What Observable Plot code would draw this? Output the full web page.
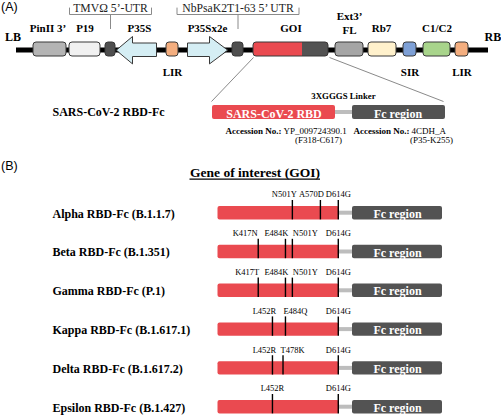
<!DOCTYPE html>
<html>
<head>
<meta charset="utf-8">
<script src="https://cdn.jsdelivr.net/npm/d3@7"></script>
<script src="https://cdn.jsdelivr.net/npm/@observablehq/plot@0.6"></script>
<style>
  html, body { margin: 0; padding: 0; background: #fff; }
  #chart svg { display: block; }
</style>
</head>
<body>
<div id="chart"></div>
<script>
// ================= DATA =================
const panelLabels = ["(A)", "(B)"];
// expression-vector elements, left border (LB) to right border (RB)
const vectorParts = ["PinII 3’", "P19", "TMVΩ 5’-UTR", "P35S", "LIR", "P35Sx2e",
  "NbPsaK2T1-63 5’ UTR", "GOI", "Ext3’ FL", "Rb7", "SIR", "C1/C2", "LIR"];
const borders = ["LB", "RB"];
const constructName = "SARS-CoV-2 RBD-Fc";
const domainNames = ["SARS-CoV-2 RBD", "Fc region"];
const linkerName = "3XGGGS Linker";
const accessions = ["YP_009724390.1", "4CDH_A"];
const residueRanges = ["(F318-C617)", "(P35-K255)"];
const rbdResidues = [318, 617];
const goiTitle = "Gene of interest (GOI)";
const variants = ["Alpha", "Beta", "Gamma", "Kappa", "Delta", "Epsilon"];
const lineages = ["B.1.1.7", "B.1.351", "P.1", "B.1.617.1", "B.1.617.2", "B.1.427"];
const mutations = [
  ["N501Y", "A570D", "D614G"],
  ["K417N", "E484K", "N501Y", "D614G"],
  ["K417T", "E484K", "N501Y", "D614G"],
  ["L452R", "E484Q", "D614G"],
  ["L452R", "T478K", "D614G"],
  ["L452R", "D614G"]
];

// ================= LAYOUT / STYLE =================
const W = 501, H = 415;
const SERIF = "'Liberation Serif', 'Times New Roman', serif";
const SANS = "'Liberation Sans', Arial, sans-serif";
const RED = "#ea4a50", DARK = "#535353", LINKER = "#bdbdbd", GUIDE = "#8a8a8a", EDGE = "#383838";

const trackY = 49.5, trackX = [16, 488], boxTop = 42, boxBot = 56;
const partX1 = [33, 69, 105, 116, 166, 187, 232, 253, 335, 368, 403, 423, 455];
const partX2 = [66, 100, 115, 156, 178, 227, 243, 328, 363, 396, 416, 450, 468];
const partShape = ["box", "box", "utr", "arrowL", "box", "arrowR", "utr", "goi", "box", "box", "box", "box", "box"];
const partFill = ["#b4b4b4", "#f1f1f1", "#4f4f4f", "#d5eef4", "#f4ae7f", "#d5eef4", "#4f4f4f", RED,
  "#a5a5a5", "#fff1cc", "#7ea0d6", "#a8d48b", "#f4ae7f"];
const partLabel = ["above", "above", "bracket", "above", "below", "above", "bracket", "above", "above2", "above", "below", "above", "below"];
const labelDx = [ -2, 0, 0, 3, 0, 0, 0, 0, 0, -1, 0, 0, 0];
const bracketHalf = [0, 0, 41, 0, 0, 0, 61, 0, 0, 0, 0, 0, 0];
const goiSplit = 302;
const headH = 13.5, headLen = 16;

const parts = vectorParts.map((name, i) => ({
  name, x1: partX1[i], x2: partX2[i], cx: (partX1[i] + partX2[i]) / 2,
  shape: partShape[i], fill: partFill[i], pos: partLabel[i], dx: labelDx[i], half: bracketHalf[i]
}));

// detail bar in panel A
const detailY = [105, 119];
const detailRBD = [212, 335], detailFc = [352, 445];

// panel B rows
const rowY0 = 212.7, rowStep = 38.8, barHalf = 6.7;
const resX = d3.scaleLinear().domain(rbdResidues).range([217.5, 339]);
const fcB = [352, 442];
const mutDx = [[-8, -9, 0], [-13, -9, 13, 0], [-11, -9, 13, 0], [-8, 10, 0], [-8, 9.5, 0], [0, 0]];

const rows = variants.map((v, i) => ({ name: `${v} RBD-Fc (${lineages[i]})`, y: rowY0 + i * rowStep }));
const muts = mutations.flatMap((list, i) => list.map((m, j) => ({
  label: m, residue: +m.slice(1, -1), x: resX(+m.slice(1, -1)), y: rows[i].y, dx: mutDx[i][j]
})));

// ================= MARKS =================
const marks = [];
const T = (data, o) => Plot.text(data, { lineAnchor: "bottom", fontFamily: SERIF, fill: "#000", ...o });

// panel letters
marks.push(T([{ t: panelLabels[0], y: 10 }, { t: panelLabels[1], y: 169.5 }],
  { x: 0.5, y: "y", text: "t", textAnchor: "start", fontFamily: SANS, fontSize: 12.5 }));

// backbone
marks.push(Plot.ruleY([{ y: trackY }], { y: "y", x1: trackX[0], x2: trackX[1], stroke: "#000", strokeWidth: 5 }));

// boxes
const boxes = parts.filter(p => p.shape === "box" || p.shape === "utr");
marks.push(Plot.rect(boxes, { x1: "x1", x2: "x2", y1: boxTop, y2: boxBot, fill: "fill", stroke: EDGE, strokeWidth: 1, rx: 3 }));

// arrows (promoters)
const arrowPts = parts.filter(p => p.shape.startsWith("arrow")).flatMap(p => {
  const bt = boxTop + 0.5, bb = boxBot, top = trackY - headH, bot = trackY + headH;
  if (p.shape === "arrowL") {
    const hb = p.x1 + headLen;
    return [[p.x1, trackY], [hb, top], [hb, bt], [p.x2, bt], [p.x2, bb], [hb, bb], [hb, bot]].map(([x, y]) => ({ id: p.name, x, y }));
  } else {
    const hb = p.x2 - headLen - 2;
    return [[p.x2, trackY], [hb, top], [hb, bt], [p.x1, bt], [p.x1, bb], [hb, bb], [hb, bot]].map(([x, y]) => ({ id: p.name, x, y }));
  }
});
marks.push(Plot.line(arrowPts, { x: "x", y: "y", z: "id", fill: "#d5eef4", stroke: EDGE, strokeWidth: 1, curve: "linear-closed" }));

// GOI (RBD red + Fc dark)
const goi = parts.filter(p => p.shape === "goi");
marks.push(Plot.rect(goi, { x1: "x1", x2: "x2", y1: boxTop, y2: boxBot, fill: RED, rx: 3 }));
marks.push(Plot.rect(goi, { x1: goiSplit, x2: "x2", y1: boxTop, y2: boxBot, fill: DARK, rx: 3 }));
marks.push(Plot.rect(goi, { x1: goiSplit, x2: goiSplit + 5, y1: boxTop, y2: boxBot, fill: DARK }));
marks.push(Plot.rect(goi, { x1: "x1", x2: "x2", y1: boxTop, y2: boxBot, fill: "none", stroke: EDGE, strokeWidth: 1, rx: 3 }));

// brackets for UTRs
const utrs = parts.filter(p => p.pos === "bracket");
const bracketPts = utrs.flatMap(p => [[p.cx - p.half, 7.5], [p.cx - p.half, 14], [p.cx + p.half, 14], [p.cx + p.half, 7.5]]
  .map(([x, y]) => ({ id: p.name, x, y })));
marks.push(Plot.line(bracketPts, { x: "x", y: "y", z: "id", stroke: GUIDE, strokeWidth: 1 }));
marks.push(Plot.ruleX(utrs, { x: "cx", y1: 14, y2: 29, stroke: GUIDE, strokeWidth: 1 }));
marks.push(T(utrs, { x: "cx", y: 11.5, text: "name", fontSize: 11.7, fill: "#222" }));

// element labels
marks.push(T(parts.filter(p => p.pos === "above"), { x: d => d.cx + d.dx, y: 31.5, text: "name", fontSize: 11, fontWeight: "bold" }));
marks.push(T(parts.filter(p => p.pos === "above2"), { x: "cx", y: 33, text: d => d.name.replace(" ", "\n"), lineHeight: 1.25, fontSize: 11, fontWeight: "bold" }));
marks.push(T(parts.filter(p => p.pos === "below"), { x: "cx", y: 75, text: "name", fontSize: 11, fontWeight: "bold" }));
marks.push(T([{ t: borders[0], x: 4.5, a: "start", y: 40.5 }, { t: borders[1], x: 484, a: "start", y: 40.5 }],
  { x: "x", y: "y", text: "t", textAnchor: "start", fontSize: 12, fontWeight: "bold" }));

// zoom guide lines from GOI to detail bar
marks.push(Plot.link([{ x1: goi[0].x1, y1: boxBot + 1, x2: detailRBD[0] - 1, y2: detailY[0] - 4 },
  { x1: goi[0].x2 + 1, y1: boxBot + 1, x2: detailFc[1] - 2, y2: detailY[0] - 4 }],
  { x1: "x1", y1: "y1", x2: "x2", y2: "y2", stroke: GUIDE, strokeWidth: 1 }));

// detail bar
marks.push(Plot.rect([{}], { x1: detailRBD[1] - 2, x2: detailFc[0] + 2, y1: (detailY[0] + detailY[1]) / 2 - 2, y2: (detailY[0] + detailY[1]) / 2 + 2, fill: LINKER }));
marks.push(Plot.rect([{ a: detailRBD[0], b: detailRBD[1], f: RED }, { a: detailFc[0], b: detailFc[1], f: DARK }],
  { x1: "a", x2: "b", y1: detailY[0], y2: detailY[1], fill: "f", rx: 2 }));
marks.push(T([{ t: domainNames[0], x: (detailRBD[0] + detailRBD[1]) / 2 }, { t: domainNames[1], x: (detailFc[0] + detailFc[1]) / 2 - 1 }],
  { x: "x", y: 117, text: "t", fontSize: 12, fontWeight: "bold", fill: "#fff" }));
marks.push(T([{ t: constructName }], { x: 52, y: 115.5, text: "t", textAnchor: "start", fontSize: 12, fontWeight: "bold" }));
marks.push(T([{ t: linkerName }], { x: 343, y: 98.5, text: "t", fontSize: 8.8, fontWeight: "bold" }));
marks.push(T([{ x: 281, t: "Accession No.:" }, { x: 409, t: "Accession No.:" }],
  { x: "x", y: 133.5, text: "t", textAnchor: "end", fontSize: 9, fontWeight: "bold" }));
marks.push(T([{ x: 283, t: accessions[0] }, { x: 411, t: accessions[1] }],
  { x: "x", y: 133.5, text: "t", textAnchor: "start", fontSize: 9 }));
marks.push(T([{ x: 318, t: residueRanges[0] }, { x: 431, t: residueRanges[1] }],
  { x: "x", y: 142, text: "t", fontSize: 9 }));

// ---- panel B ----
marks.push(T([{ t: goiTitle }], { x: 254.5, y: 176, text: "t", fontSize: 13.5, fontWeight: "bold" }));
marks.push(Plot.ruleY([{ y: 178.6 }], { y: "y", x1: 189.5, x2: 320, stroke: "#000", strokeWidth: 1.3 }));

marks.push(Plot.rect(rows, { x1: resX(rbdResidues[1]) - 1, x2: fcB[0] + 1, y1: d => d.y - 2, y2: d => d.y + 2, fill: LINKER }));
marks.push(Plot.rect(rows, { x1: resX(rbdResidues[0]), x2: resX(rbdResidues[1]), y1: d => d.y - barHalf, y2: d => d.y + barHalf, fill: RED, rx: 2 }));
marks.push(Plot.rect(rows, { x1: fcB[0], x2: fcB[1], y1: d => d.y - barHalf, y2: d => d.y + barHalf, fill: DARK, rx: 2 }));
marks.push(T(rows, { x: (fcB[0] + fcB[1]) / 2, y: d => d.y + 4.6, text: () => domainNames[1], fontSize: 12, fontWeight: "bold", fill: "#fff" }));
marks.push(T(rows, { x: 52, y: d => d.y + 4.4, text: "name", textAnchor: "start", fontSize: 12, fontWeight: "bold" }));
marks.push(Plot.ruleX(muts, { x: "x", y1: d => d.y - 12.7, y2: d => d.y + barHalf, stroke: "#000", strokeWidth: 1.4 }));
marks.push(T(muts, { x: d => d.x + d.dx, y: d => d.y - 15.8, text: "label", fontSize: 8.5 }));

const chart = Plot.plot({
  width: W, height: H,
  marginTop: 0, marginRight: 0, marginBottom: 0, marginLeft: 0,
  x: { domain: [0, W], range: [0, W], axis: null },
  y: { domain: [0, H], range: [0, H], axis: null },
  color: { type: "identity" },
  style: { background: "#fff", overflow: "visible" },
  marks
});
document.getElementById("chart").appendChild(chart);
</script>
</body>
</html>
